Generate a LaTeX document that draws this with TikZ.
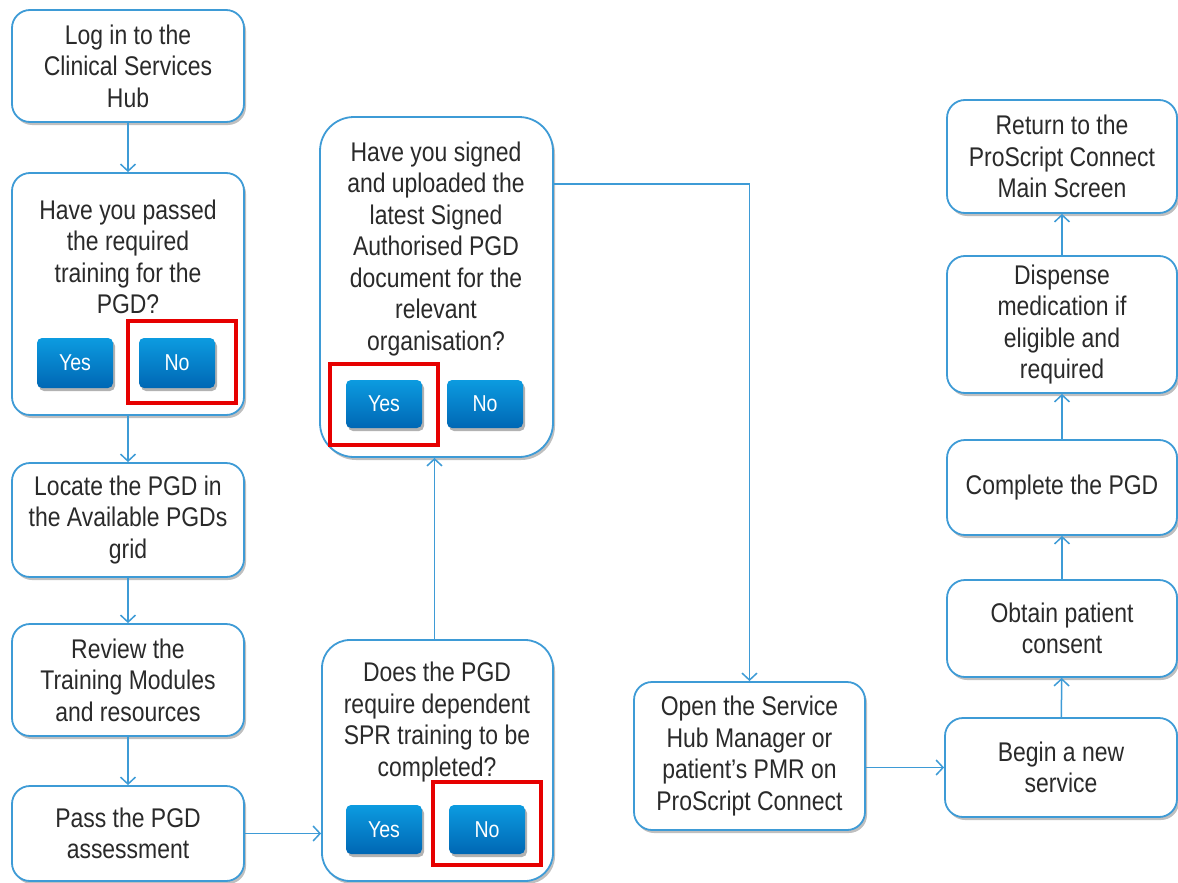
\documentclass[tikz,border=0pt]{standalone}
\usepackage{fontspec}
\setmainfont{Liberation Sans}[FakeStretch=0.85]
\usetikzlibrary{shadows,arrows.meta}
\definecolor{lineblue}{HTML}{3E9BD6}
\definecolor{txtgray}{HTML}{2A2A2A}
\definecolor{btntop}{HTML}{0C9BE0}
\definecolor{btnbot}{HTML}{0067B4}
\definecolor{redbox}{HTML}{E60000}
\tikzset{
 box/.style={draw=lineblue, line width=1.8pt, rounded corners=18pt, fill=white,
   drop shadow={shadow xshift=2pt, shadow yshift=-3pt, opacity=0.25, fill=black},
   align=center, text=txtgray, font=\fontsize{27}{31.5}\selectfont, inner sep=0pt},
 txt/.style={align=center, text=txtgray, font=\fontsize{27}{31.5}\selectfont, inner sep=0pt},
 btn/.style={rounded corners=5pt, top color=btntop, bottom color=btnbot, text=white,
   drop shadow={shadow xshift=2pt, shadow yshift=-3pt, opacity=0.3, fill=black},
   font=\fontsize{23}{26}\selectfont, minimum width=76, inner sep=0pt},
 redsq/.style={draw=redbox, line width=4.5pt, inner sep=0pt},
 arr/.style={draw=lineblue, line width=1.5pt, -{Straight Barb[length=7pt,width=15pt,line width=1.5pt]}}
}
\begin{document}
\begin{tikzpicture}[x=1pt,y=-1pt]
\useasboundingbox (0,0) rectangle (1178,883);
% left column
\node[box, minimum width=232, minimum height=112] (n1) at (128,66) {Log in to the\\Clinical Services\\Hub};
\node[box, minimum width=232, minimum height=242] (q1) at (128,294) {};
\node[txt] (q1t) at (128,257) {Have you passed\\the required\\training for the\\PGD?};
\node[btn, minimum height=50] (q1y) at (75,363) {Yes};
\node[btn, minimum height=50] (q1n) at (177,363) {No};
\node[redsq, minimum width=108, minimum height=82] (q1r) at (182,362) {};
\node[box, minimum width=232, minimum height=114] (n3) at (128,520) {Locate the PGD in\\the Available PGDs\\grid};
\node[box, minimum width=232, minimum height=112] (n4) at (128,680) {Review the\\Training Modules\\and resources};
\node[box, minimum width=232, minimum height=95] (n5) at (128,833.5) {Pass the PGD\\assessment};
% middle column
\node[box, rounded corners=34pt, minimum width=233, minimum height=340] (q2) at (436.5,287) {};
\node[txt] (q2t) at (436,249) {Have you signed\\and uploaded the\\latest Signed\\Authorised PGD\\document for the\\relevant\\organisation?};
\node[btn, minimum height=48] (q2y) at (384,404) {Yes};
\node[btn, minimum height=48] (q2n) at (485,404) {No};
\node[redsq, minimum width=108, minimum height=81] (q2r) at (384,404.5) {};
\node[box, rounded corners=28pt, minimum width=231, minimum height=241] (q3) at (437.5,760.5) {};
\node[txt] (q3t) at (437,722) {Does the PGD\\require dependent\\SPR training to be\\completed?};
\node[btn, minimum height=49] (q3y) at (384,829.5) {Yes};
\node[btn, minimum height=49] (q3n) at (487,829.5) {No};
\node[redsq, minimum width=108, minimum height=83] (q3r) at (487,823.5) {};
% open
\node[box, minimum width=231, minimum height=148] (o) at (749.5,756) {Open the Service\\Hub Manager or\\patient’s PMR on\\ProScript Connect};
% right column
\node[box, minimum width=232, minimum height=99] (b) at (1061,767.5) {Begin a new\\service};
\node[box, minimum width=230, minimum height=97] (ob) at (1062,628.5) {Obtain patient\\consent};
\node[box, minimum width=230, minimum height=95] (c) at (1062,487.5) {Complete the PGD};
\node[box, minimum width=230, minimum height=137] (dp) at (1062,324.5) {Dispense\\medication if\\eligible and\\required};
\node[box, minimum width=230, minimum height=113] (rt) at (1062,156.5) {Return to the\\ProScript Connect\\Main Screen};
% connectors
\draw[arr] (n1) -- (q1);
\draw[arr] (q1) -- (n3);
\draw[arr] (n3) -- (n4);
\draw[arr] (n4) -- (n5);
\draw[arr] (n5.east) -- (n5.east -| q3.west);
\draw[arr] ([xshift=-3pt]q3.north) -- ([xshift=-3pt]q3.north |- q2.south);
\draw[arr] (q2.east |- 0,184) -| (o.north);
\draw[arr] (o.east |- b.west) -- (b.west);
\draw[arr] (b) -- (ob);
\draw[arr] (ob) -- (c);
\draw[arr] (c) -- (dp);
\draw[arr] (dp) -- (rt);
\end{tikzpicture}
\end{document}
